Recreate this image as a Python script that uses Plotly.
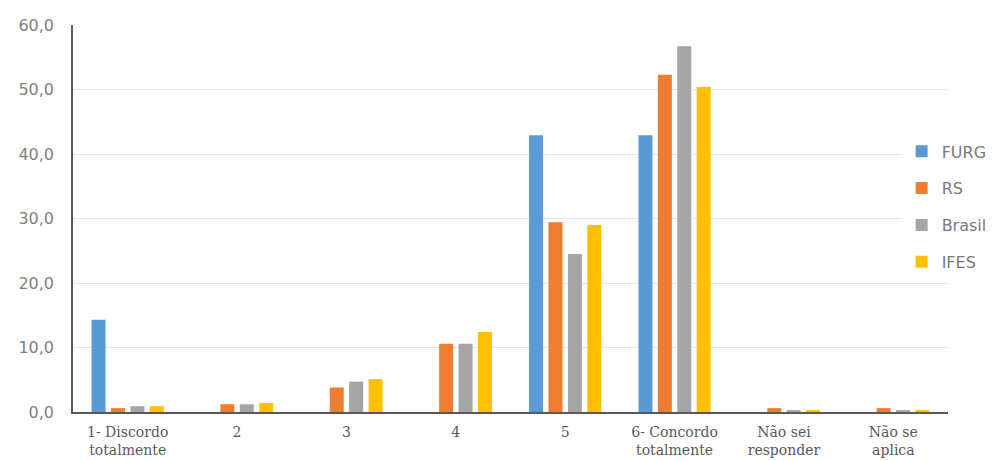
import plotly.graph_objects as go

categories = ["1- Discordo<br>totalmente", "2", "3", "4", "5",
              "6- Concordo<br>totalmente", "Não sei<br>responder", "Não se<br>aplica"]
furg = [14.3, 0.0, 0.0, 0.0, 42.9, 42.9, 0.0, 0.0]
rs = [0.6, 1.2, 3.8, 10.6, 29.4, 52.3, 0.6, 0.6]
brasil = [0.9, 1.2, 4.7, 10.6, 24.5, 56.7, 0.3, 0.2]
ifes = [0.9, 1.4, 5.1, 12.4, 29.0, 50.4, 0.2, 0.2]
tick_vals = [0, 10, 20, 30, 40, 50, 60]
tick_text = ["0,0", "10,0", "20,0", "30,0", "40,0", "50,0", "60,0"]

series = [("FURG", furg, "#5B9BD5"), ("RS", rs, "#ED7D31"),
          ("Brasil", brasil, "#A5A5A5"), ("IFES", ifes, "#FFC000")]

fig = go.Figure()
for name, vals, color in series:
    fig.add_trace(go.Bar(name=name, x=categories, y=vals, marker_color=color,
                         marker_line_width=0, legendgroup=name))

fig.update_layout(
    width=990, height=453,
    margin=dict(l=65, r=50, t=17, b=49, autoexpand=False),
    paper_bgcolor="white", plot_bgcolor="white",
    barmode="group", bargap=0.29, bargroupgap=0.28,
    showlegend=True,
    legend=dict(x=0.947, xanchor="left", y=0.53, yanchor="middle",
                bgcolor="white", font=dict(family="DejaVu Sans", size=16, color="#7a7a7a"),
                itemwidth=30, tracegroupgap=13, traceorder="grouped"),
    xaxis=dict(showline=True, linecolor="#595959", linewidth=1.5, ticks="",
               tickfont=dict(family="DejaVu Serif", size=14, color="#595959"),
               showgrid=False, fixedrange=True, ticklabelstandoff=6),
    yaxis=dict(range=[0, 60], tickvals=tick_vals, ticktext=tick_text,
               showline=True, linecolor="#595959", linewidth=1.5,
               gridcolor="#E3E3E3", gridwidth=1, zeroline=False,
               tickfont=dict(family="DejaVu Sans", size=16, color="#808080"),
               ticks="", ticklabelstandoff=14),
)
fig.write_html("out.html")
